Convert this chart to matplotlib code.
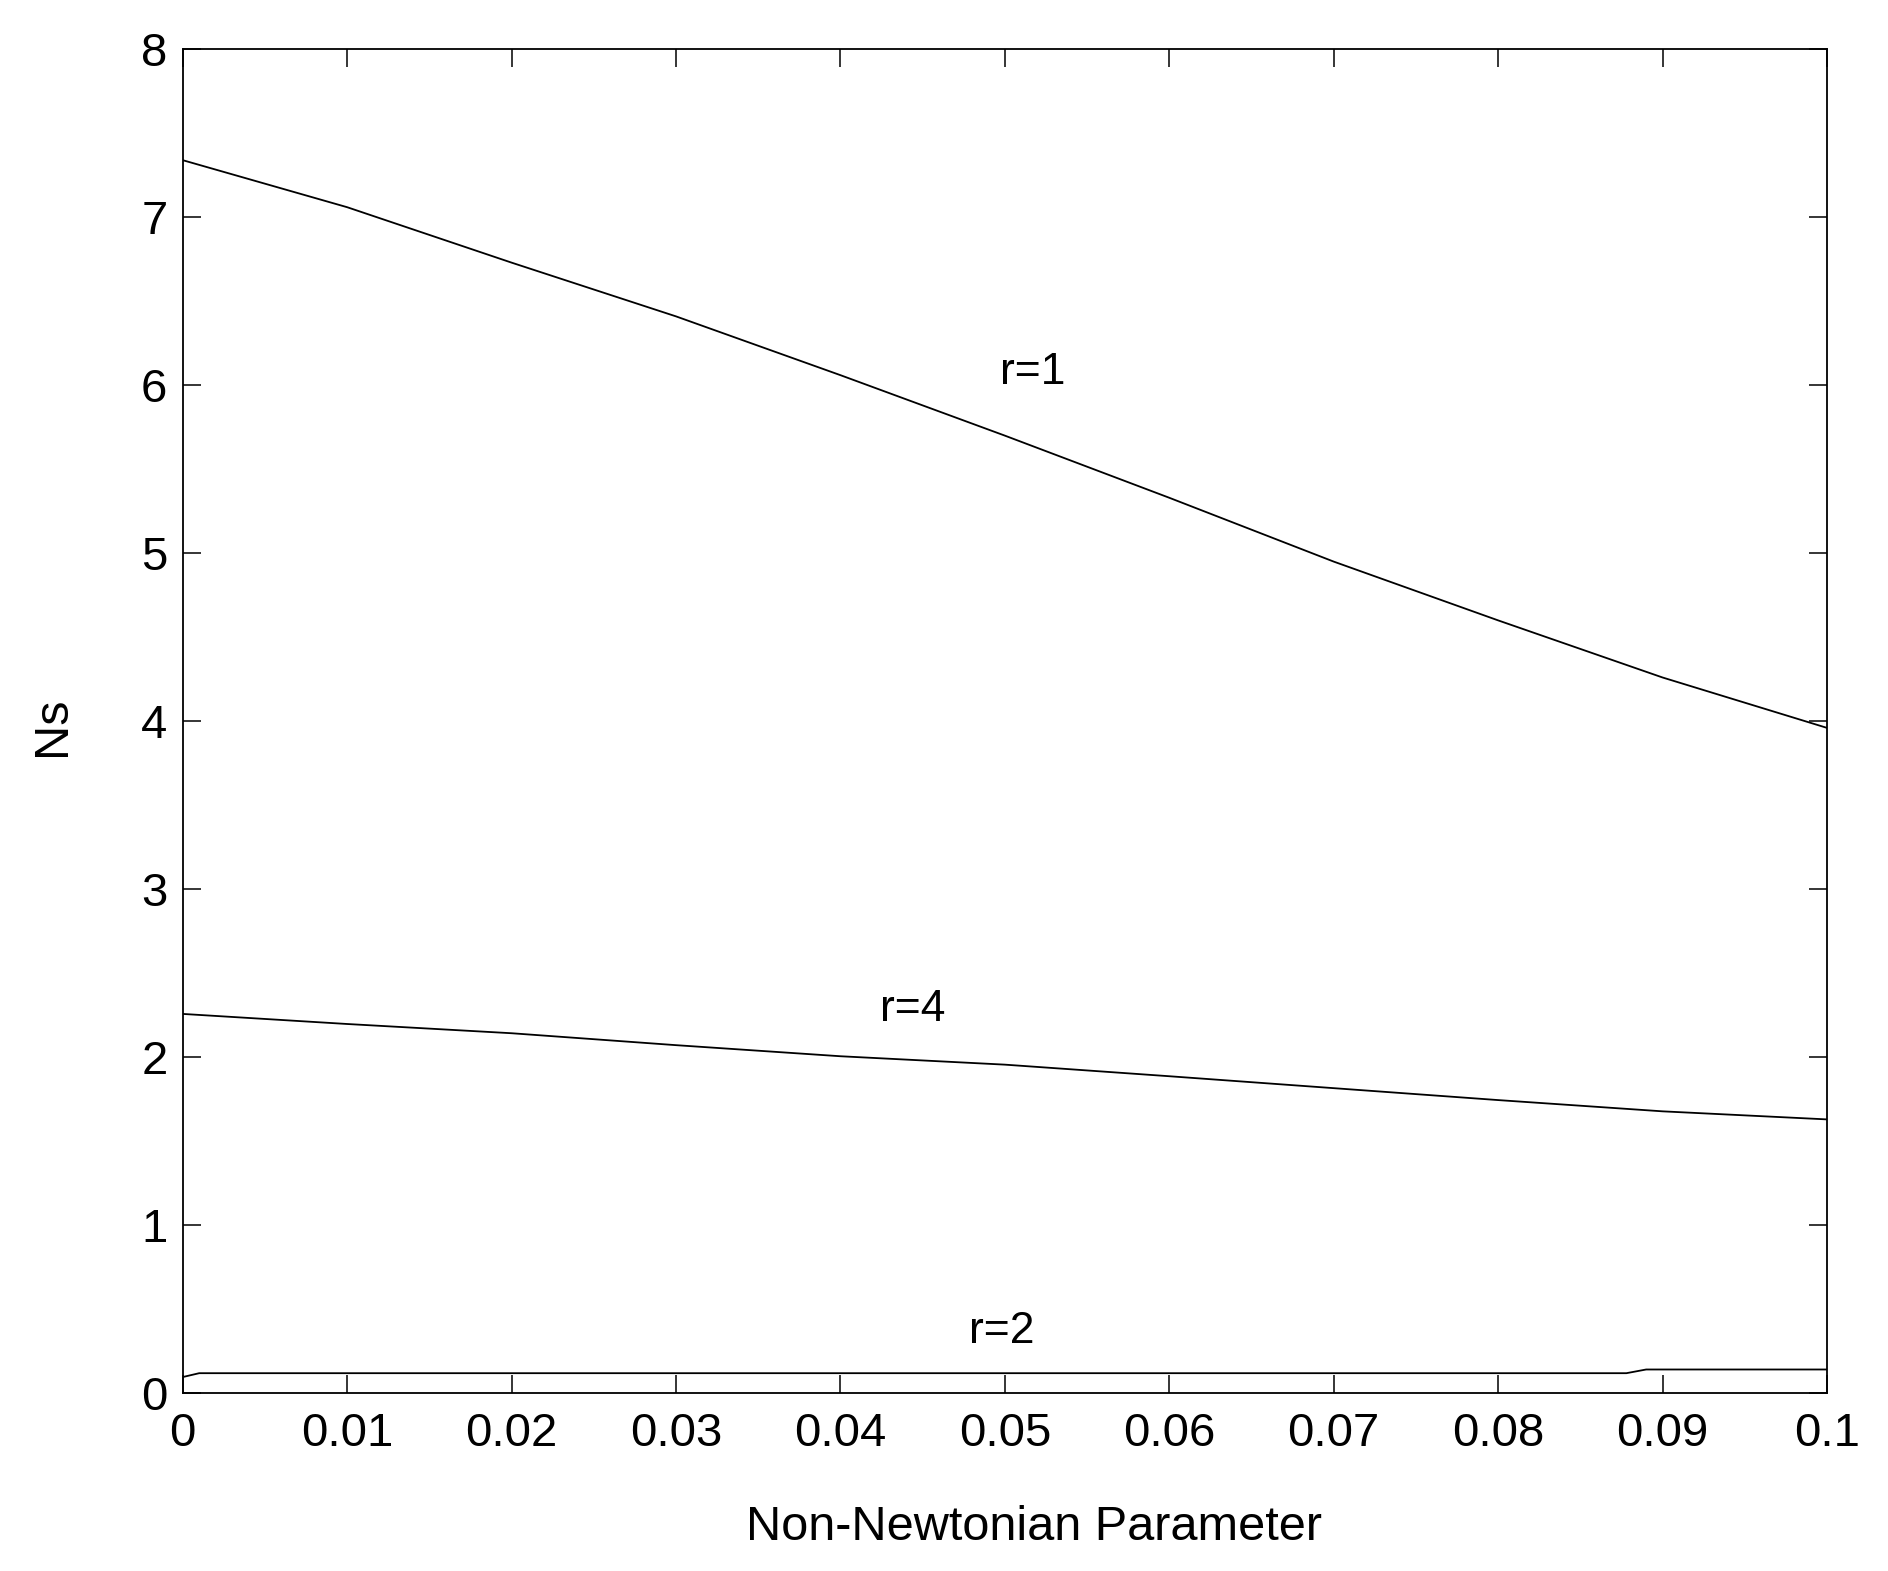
import numpy as np
import matplotlib
matplotlib.use("Agg")
import matplotlib.pyplot as plt

plt.rcParams['font.family'] = ['Liberation Sans', 'Arial', 'DejaVu Sans']

# values
x = [0.0, 0.01, 0.02, 0.03, 0.04, 0.05, 0.06, 0.07, 0.08, 0.09, 0.1]
ns_r1 = [7.34, 7.06, 6.73, 6.41, 6.06, 5.70, 5.33, 4.95, 4.60, 4.26, 3.96]
ns_r4 = [2.257, 2.197, 2.142, 2.071, 2.005, 1.955, 1.886, 1.815, 1.744, 1.677, 1.629]
x_r2 = [0.0, 0.001, 0.0878, 0.089, 0.1]
ns_r2 = [0.095, 0.118, 0.118, 0.14, 0.14]

labels = ["r=1", "r=4", "r=2"]
label_pos = [(0.0497, 6.01), (0.0424, 2.217), (0.0478, 0.30)]

xticks = [0, 0.01, 0.02, 0.03, 0.04, 0.05, 0.06, 0.07, 0.08, 0.09, 0.1]
xticklabels = ["0", "0.01", "0.02", "0.03", "0.04", "0.05", "0.06", "0.07", "0.08", "0.09", "0.1"]
yticks = [0, 1, 2, 3, 4, 5, 6, 7, 8]

fig = plt.figure(figsize=(18.88, 15.71), dpi=100)
ax = fig.add_axes([0.0968, 0.1133, 0.9677 - 0.0968, 0.9686 - 0.1133])

ax.plot(x, ns_r1, color='black', lw=1.3)
ax.plot(x, ns_r4, color='black', lw=1.3)
ax.plot(x_r2, ns_r2, color='black', lw=1.3)

for lab, (lx, ly) in zip(labels, label_pos):
    ax.text(lx, ly, lab, fontsize=32, ha='left', va='baseline')

ax.set_xlim(0, 0.1)
ax.set_ylim(0, 8)
ax.set_xticks(xticks)
ax.set_xticklabels(xticklabels)
ax.set_yticks(yticks)
ax.tick_params(direction='in', top=True, right=True, length=13, width=1.1,
               labelsize=34, color='black')
ax.tick_params(axis='x', pad=14)
ax.tick_params(axis='y', pad=11)
for sp in ax.spines.values():
    sp.set_linewidth(1.3)

ax.set_xlabel("Non-Newtonian Parameter", fontsize=35)
ax.xaxis.label.set_va('baseline')
ax.xaxis.set_label_coords(0.518, -0.1094)
ax.set_ylabel("Ns", fontsize=35)
ax.yaxis.label.set_va('center')
ax.yaxis.set_label_coords(-0.079, 0.496)

fig.savefig("out.png", dpi=100, facecolor='white')
